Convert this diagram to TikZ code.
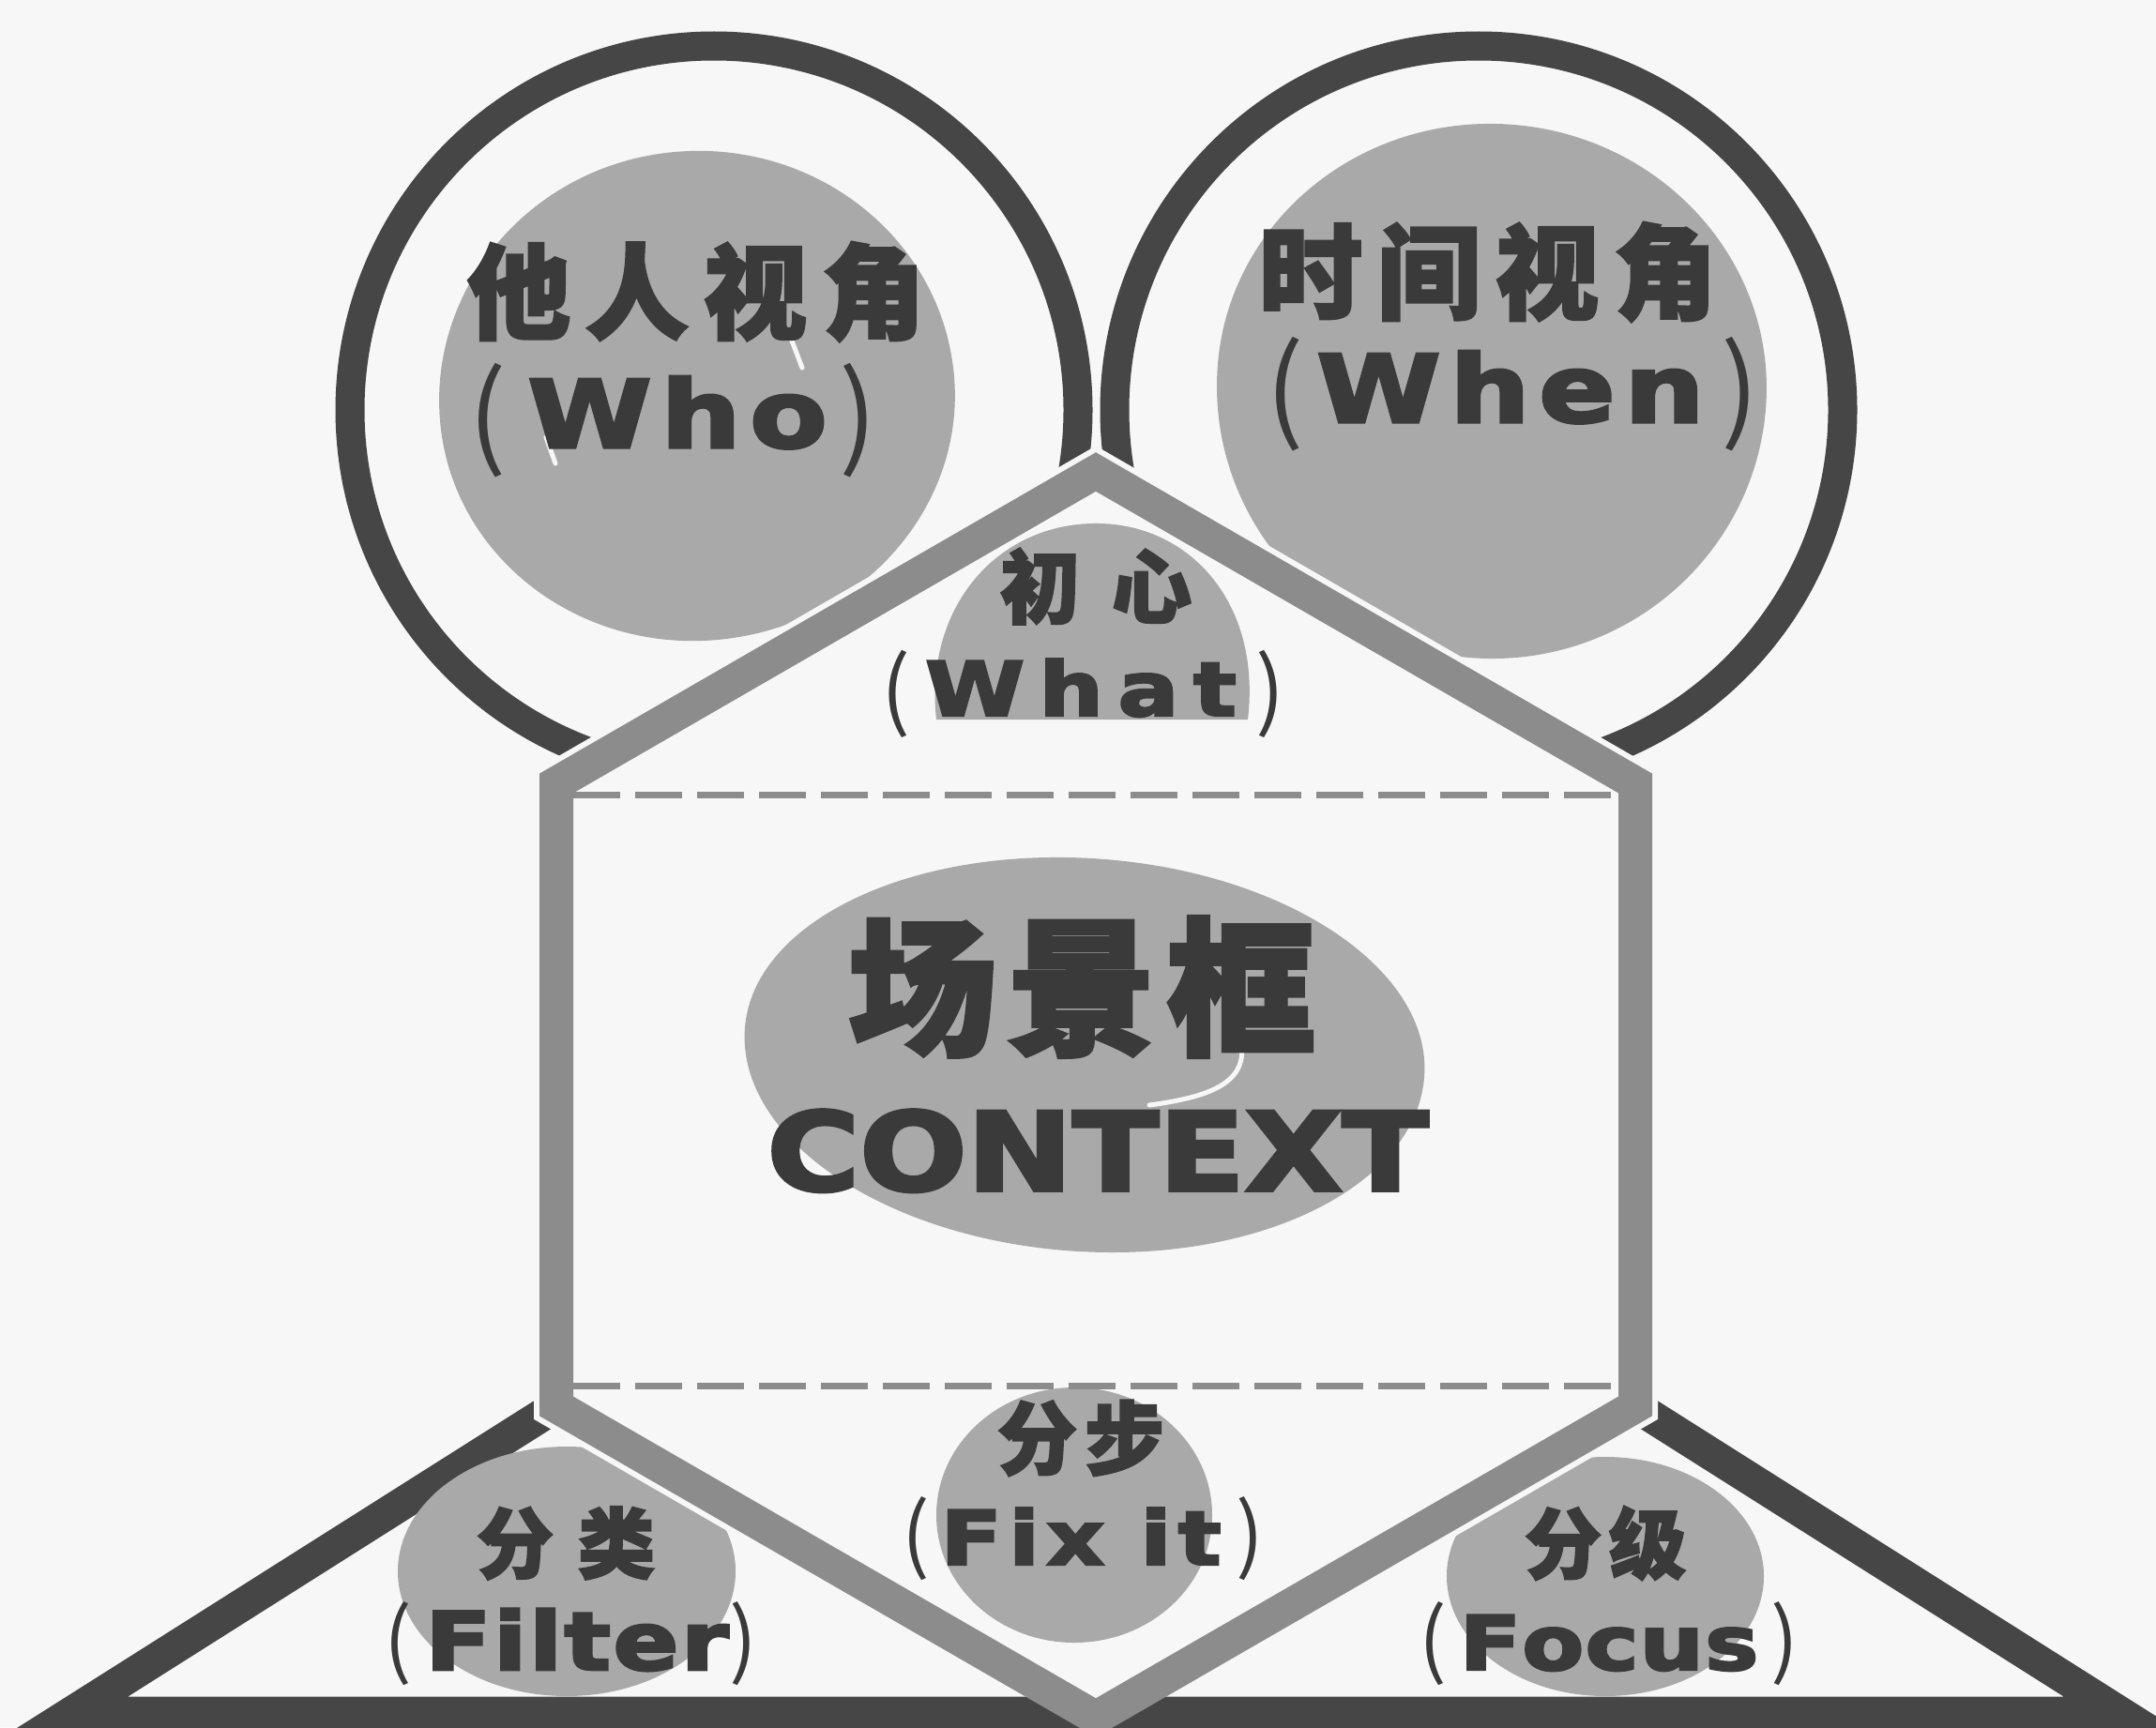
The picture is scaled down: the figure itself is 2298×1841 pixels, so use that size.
\documentclass[tikz,border=0pt]{standalone}
\usepackage{fontspec}
\newfontfamily\cjk{Noto Sans CJK SC}[BoldFeatures={FakeBold=2.5}]
\newfontfamily\lat{DejaVu Sans}[BoldFeatures={FakeBold=3}]
\definecolor{paper}{HTML}{F7F7F7}
\definecolor{dark}{HTML}{464646}
\definecolor{hexgray}{HTML}{8C8C8C}
\definecolor{blobc}{HTML}{A9A9A9}
\definecolor{ink}{HTML}{3A3A3A}
\newcommand\fsz[1]{\fontsize{#1}{#1}\selectfont}
\newcommand\wide[1]{\scalebox{1.2}[1]{#1}}
% egg-shaped blob: centre x, centre y, left, right, top, bottom radii
\newcommand\blobpath[6]{%
 (#1,#2-#5) .. controls (#1+0.552*#4,#2-#5) and (#1+#4,#2-0.552*#5) .. (#1+#4,#2)
 .. controls (#1+#4,#2+0.552*#6) and (#1+0.552*#4,#2+#6) .. (#1,#2+#6)
 .. controls (#1-0.552*#3,#2+#6) and (#1-#3,#2+0.552*#6) .. (#1-#3,#2)
 .. controls (#1-#3,#2-0.552*#5) and (#1-0.552*#3,#2-#5) .. (#1,#2-#5) -- cycle}
\tikzset{
  ring/.style={draw=dark, line width=31pt, fill=paper},
  blobfill/.style={fill=blobc},
  hexline/.style={draw=hexgray, line width=36pt, line join=miter},
  hexgap/.style={draw=paper, line width=48pt, line join=miter},
  tri/.style={draw=dark, line width=35pt, line join=miter, fill=paper},
  dashrule/.style={draw=hexgray, line width=7pt, dash pattern=on 50pt off 16pt},
  glint/.style={draw=paper, line width=5pt, line cap=round},
  zh/.style={text=ink, inner sep=0pt, font=\cjk\bfseries},
  en/.style={text=ink, inner sep=0pt, font=\lat\bfseries},
  paren/.style={text=ink, inner sep=0pt, font=\cjk},
}
\begin{document}
\begin{tikzpicture}[x=1pt,y=-1pt]
\path[use as bounding box, fill=paper] (0,0) rectangle (2298,1841);

% hexagon vertices
\coordinate (h1) at (1168,503);
\coordinate (h2) at (1743,835);
\coordinate (h3) at (1743,1499);
\coordinate (h4) at (1168,1831);
\coordinate (h5) at (593,1499);
\coordinate (h6) at (593,835);

% circles
\draw[ring] (761,437) circle[radius=388pt];
\draw[ring] (1576,437) circle[radius=388pt];

% upper blobs
\fill[blobfill, rotate around={6:(742,425)}] \blobpath{742}{425}{274}{276}{264}{258};
\fill[blobfill, rotate around={-4:(1590,412)}] \blobpath{1590}{412}{293}{293}{280}{290};
\draw[glint] (842,358) -- (855,392);
\draw[glint] (582,466) -- (592,494);

% triangle
\draw[tri] (76,1826) -- (1168,1135) -- (2260,1826) -- cycle;

% lower side blobs
\fill[blobfill] \blobpath{604}{1675}{180}{180}{133}{133};
\fill[blobfill] \blobpath{1711}{1680}{169}{169}{127}{128};

% hexagon body
\fill[paper] (h1) -- (h2) -- (h3) -- (h4) -- (h5) -- (h6) -- cycle;

% inner blobs
\fill[blobfill] (998,767) .. controls (985,650) and (1060,560) .. (1165,558) .. controls (1265,556) and (1345,640) .. (1330,767) -- cycle;
\fill[blobfill, rotate around={-4:(1157,1122)}] \blobpath{1157}{1122}{364}{362}{207}{212};
\draw[glint] (1322,1105) .. controls (1332,1150) and (1300,1168) .. (1225,1178);
\fill[blobfill] (1145,1615) ellipse [x radius=147pt, y radius=136pt];

% hexagon outline
\begin{scope}
\clip (0,0) rectangle (2298,1806);
\draw[hexgap] (h1) -- (h2) -- (h3) -- (h4) -- (h5) -- (h6) -- cycle;
\end{scope}
\draw[hexline] (h1) -- (h2) -- (h3) -- (h4) -- (h5) -- (h6) -- cycle;

% dashed rules
\draw[dashrule] (611,847) -- (1725,847);
\draw[dashrule] (611,1477) -- (1725,1477);

% texts: who
\node[zh] (tWho) at (742,311) {\fsz{110}他\kern16pt 人\kern16pt 视\kern16pt 角};
\node[paren] (pWhoL) at (520,448) {\fsz{120}(};
\node[paren] (pWhoR) at (915,448) {\fsz{120})};
\node[en, anchor=base] (eWho) at (722,477) {\wide{\fsz{100}W\kern8pt h\kern8pt o}};

% when
\node[zh] (tWhen) at (1586,290) {\fsz{110}时\kern16pt 间\kern16pt 视\kern16pt 角};
\node[paren] (pWhenL) at (1370,420) {\fsz{120}(};
\node[paren] (pWhenR) at (1855,420) {\fsz{120})};
\node[en, anchor=base] (eWhen) at (1610,450) {\wide{\fsz{100}W\kern8pt h\kern8pt e\kern8pt n}};

% what
\node[zh] (tWhat) at (1168,625) {\fsz{85}初\kern34pt 心};
\node[paren] (pWhatL) at (955,740) {\fsz{92}(};
\node[paren] (pWhatR) at (1354,740) {\fsz{92})};
\node[en, anchor=base] (eWhat) at (1152,763) {\wide{\fsz{80}W\kern13pt h\kern13pt a\kern13pt t}};

% context
\node[zh] (tCtx) at (1153,1052) {\fsz{158}场\kern12pt 景\kern12pt 框};
\node[en, anchor=base] (eCtx) at (1170,1269) {\scalebox{1.16}[1]{\fsz{116}CONTEXT}};

% fix it
\node[zh] (tFix) at (1152,1533) {\fsz{85}分\kern8pt 步};
\node[paren] (pFixL) at (976,1640) {\fsz{88}(};
\node[paren] (pFixR) at (1332,1640) {\fsz{88})};
\node[en, anchor=base] (eFix) at (1152,1668) {\wide{\fsz{80}F\kern6pt i\kern6pt x\kern32pt i\kern6pt t}};

% filter
\node[zh] (tFilter) at (603,1645) {\fsz{82}分\kern26pt 类};
\node[paren] (pFilL) at (424,1752) {\fsz{88}(};
\node[paren] (pFilR) at (792,1752) {\fsz{88})};
\node[en, anchor=base] (eFilter) at (615,1780) {\wide{\fsz{86}F\kern2pt i\kern2pt l\kern2pt t\kern2pt e\kern2pt r}};

% focus
\node[zh] (tFocus) at (1711,1645) {\fsz{82}分\kern8pt 级};
\node[paren] (pFocL) at (1527,1752) {\fsz{88}(};
\node[paren] (pFocR) at (1902,1752) {\fsz{88})};
\node[en, anchor=base] (eFocus) at (1715,1780) {\wide{\fsz{80}F\kern1pt o\kern1pt c\kern1pt u\kern1pt s}};
\end{tikzpicture}
\end{document}
